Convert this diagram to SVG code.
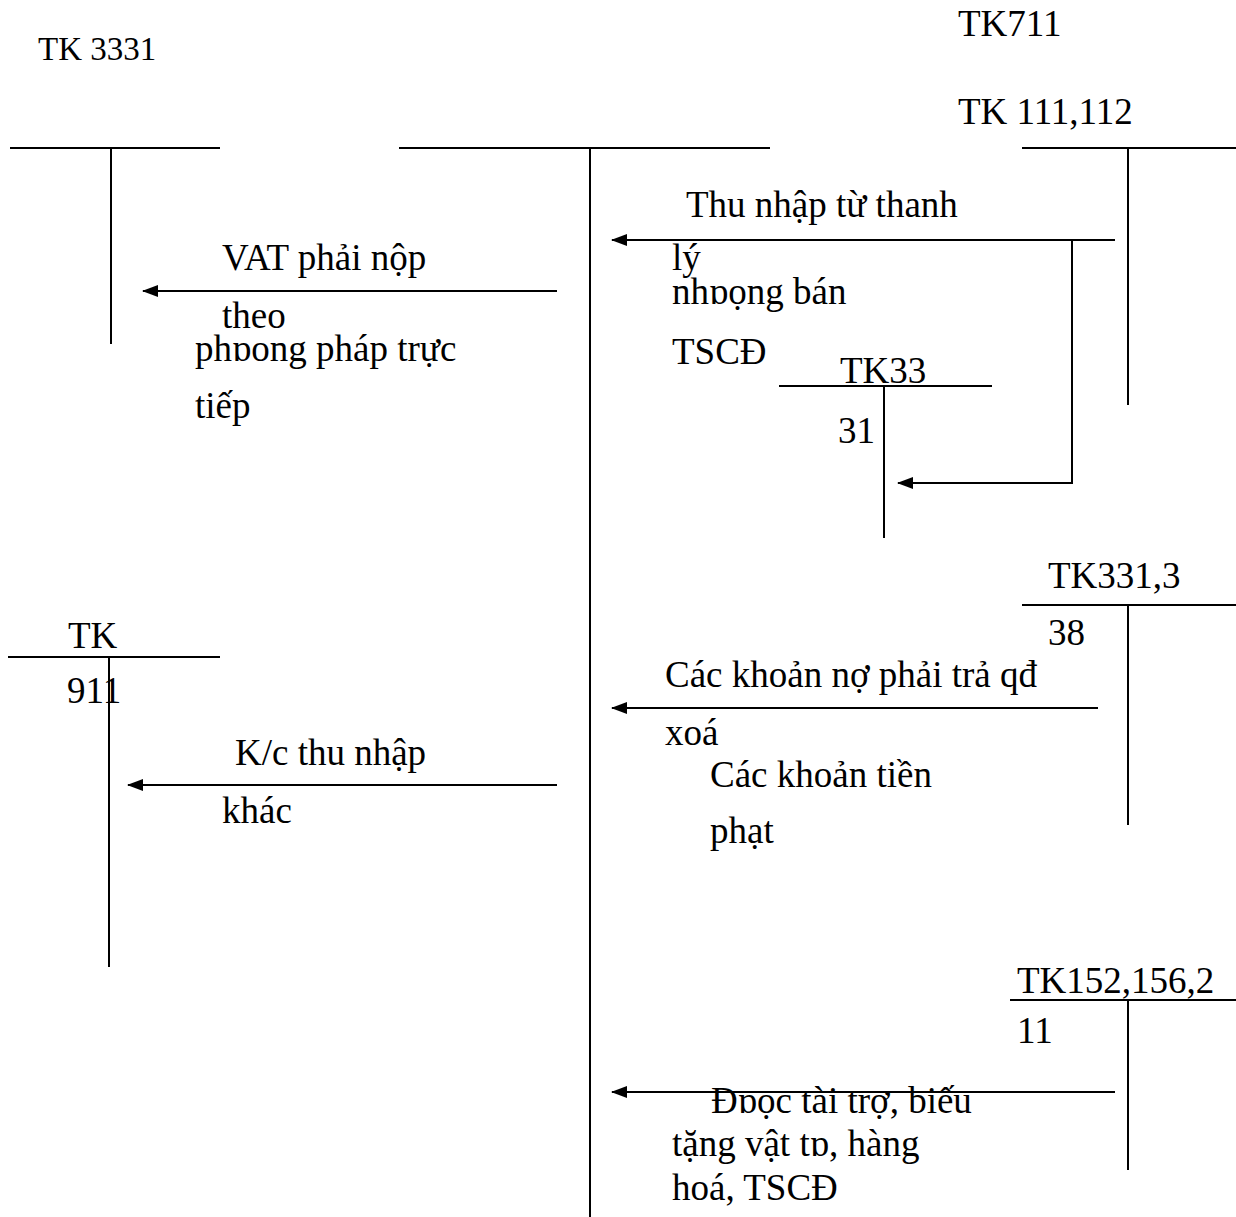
<svg xmlns="http://www.w3.org/2000/svg" width="1236" height="1217" viewBox="0 0 1236 1217">
<style>
.t text{font-family:"Liberation Serif","Times New Roman",serif;font-size:37px;fill:#000}
.ln{stroke:#000;stroke-width:2;fill:none}
</style>
<defs>
<marker id="ah" markerWidth="16" markerHeight="12" refX="15" refY="6" orient="auto" markerUnits="userSpaceOnUse">
<path d="M0,0 L16,6 L0,12 Z" fill="#000"/>
</marker>
</defs>
<rect width="1236" height="1217" fill="#fff"/>
<g class="t">
<g id="tk3331">
<path class="ln" d="M10,148 H220 M111,148 V344"/>
<text x="38" y="60" style="font-size:33px">TK 3331</text>
</g>
<g id="tk711">
<path class="ln" d="M399,148 H770 M590,148 V1217"/>
<text x="958" y="36">TK711</text>
</g>
<g id="tk111">
<path class="ln" d="M1022,148 H1236 M1128,148 V405"/>
<text x="958" y="124">TK 111,112</text>
</g>
<g id="tk3331b">
<path class="ln" d="M779,386 H992 M884,386 V538"/>
<text x="840" y="383">TK33</text>
<text x="838" y="443">31</text>
</g>
<g id="tk3313">
<path class="ln" d="M1022,605 H1236 M1128,605 V825"/>
<text x="1048" y="588">TK331,3</text>
<text x="1048" y="645">38</text>
</g>
<g id="tk911">
<path class="ln" d="M8,657 H220 M109,657 V967"/>
<text x="68" y="648">TK</text>
<text x="67" y="703">911</text>
</g>
<g id="tk152">
<path class="ln" d="M1010,1000 H1236 M1128,1000 V1170"/>
<text x="1017" y="993">TK152,156,2</text>
<text x="1017" y="1043">11</text>
</g>
<g id="connectors">
<path class="ln" d="M1115,240 H612" marker-end="url(#ah)"/>
<path class="ln" d="M1072,240 V483 H898" marker-end="url(#ah)"/>
<path class="ln" d="M557,291 H143" marker-end="url(#ah)"/>
<path class="ln" d="M1098,708 H612" marker-end="url(#ah)"/>
<path class="ln" d="M557,785 H128" marker-end="url(#ah)"/>
<path class="ln" d="M1115,1092 H612" marker-end="url(#ah)"/>
</g>
<g id="labels">
<text x="686" y="217">Thu nhập từ thanh</text>
<text x="672" y="270">lý</text>
<text x="672" y="304">nhɒọng bán</text>
<text x="672" y="364">TSCĐ</text>
<text x="222" y="270">VAT phải nộp</text>
<text x="222" y="328">theo</text>
<text x="195" y="361">phɒong pháp trực</text>
<text x="195" y="418">tiếp</text>
<text x="665" y="687">Các khoản nợ phải trả qđ</text>
<text x="665" y="745">xoá</text>
<text x="710" y="787">Các khoản tiền</text>
<text x="710" y="843">phạt</text>
<text x="235" y="765">K/c thu nhập</text>
<text x="222" y="823">khác</text>
<text x="711" y="1113">Đɒọc tài trợ, biếu</text>
<text x="672" y="1156">tặng vật tɒ, hàng</text>
<text x="672" y="1200">hoá, TSCĐ</text>
</g>
</g>
</svg>
